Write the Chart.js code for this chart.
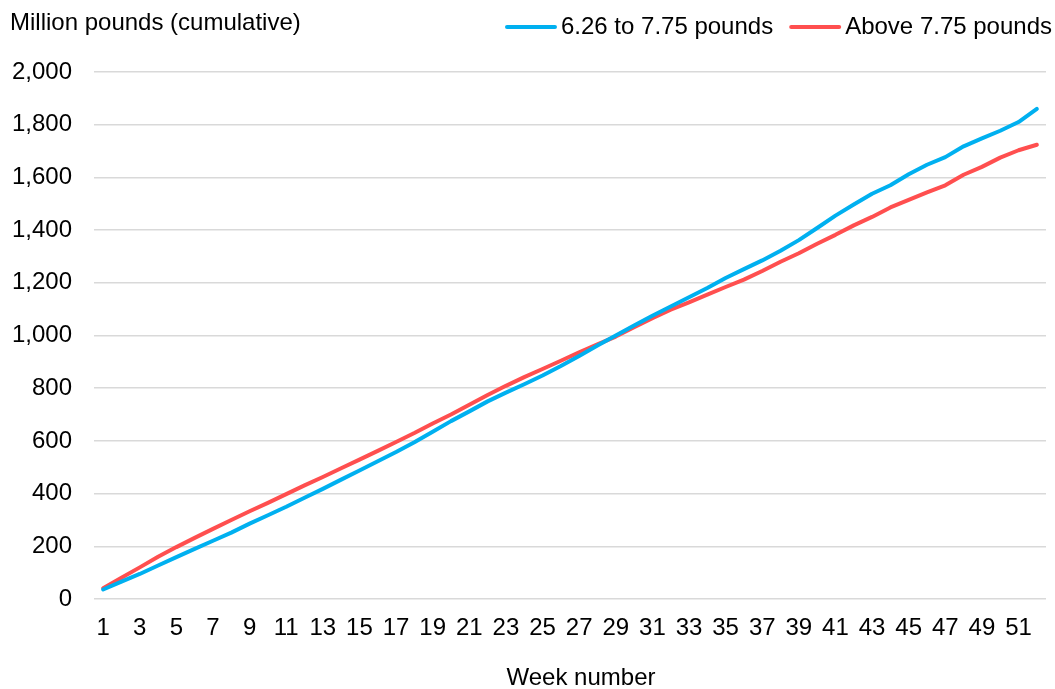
<!DOCTYPE html>
<html>
<head>
<meta charset="utf-8">
<script src="https://cdn.jsdelivr.net/npm/chart.js@4/dist/chart.umd.min.js"></script>
<style>
  html, body { margin: 0; padding: 0; background: #ffffff; }
  #wrap { position: relative; width: 1055px; height: 689px; }
</style>
</head>
<body>
<div id="wrap"><canvas id="chart" width="1055" height="689"></canvas></div>
<script>
// Week numbers along the x axis
const weeks = [1,2,3,4,5,6,7,8,9,10,11,12,13,14,15,16,17,18,19,20,21,22,23,24,25,26,
               27,28,29,30,31,32,33,34,35,36,37,38,39,40,41,42,43,44,45,46,47,48,49,50,51,52];

// Cumulative value, million pounds
const midWeightSeries = [36,66,95,127,159,190,221,252,286,318,350,384,418,453,488,523,558,595,635,675,
                         712,750,783,815,848,884,922,962,1000,1038,1075,1110,1145,1180,1218,1252,1285,1322,
                         1362,1408,1455,1497,1538,1570,1612,1648,1677,1718,1748,1777,1810,1860];
const heavySeries = [41,81,120,160,197,232,266,300,333,365,398,431,463,496,529,562,596,630,666,700,
                     737,774,809,842,873,904,936,966,996,1031,1066,1098,1126,1155,1184,1212,1245,1280,
                     1312,1348,1382,1418,1450,1486,1515,1543,1570,1610,1640,1675,1703,1724];

const seriesNames = ['6.26 to 7.75 pounds', 'Above 7.75 pounds'];
const yTicks = [0, 200, 400, 600, 800, 1000, 1200, 1400, 1600, 1800, 2000];
const yAxisLabel = 'Million pounds (cumulative)';
const xAxisLabel = 'Week number';

const FONT = '"Liberation Sans", Arial, Helvetica, sans-serif';
const TEXT = '#000000';

// Axis captions: value caption top-left, week caption under the tick labels
const axisCaptions = {
  id: 'axisCaptions',
  afterDraw(chart) {
    const ctx = chart.ctx;
    ctx.save();
    ctx.font = '24px ' + FONT;
    ctx.fillStyle = TEXT;
    ctx.textBaseline = 'middle';
    ctx.textAlign = 'left';
    ctx.fillText(yAxisLabel, 10, 23);
    ctx.textAlign = 'center';
    ctx.fillText(xAxisLabel, 581, 678);
    ctx.restore();
  }
};

// Legend row at the top-right: short line sample followed by the series name
const lineLegend = {
  id: 'lineLegend',
  afterDraw(chart) {
    const ctx = chart.ctx;
    const sample = 52, textGap = 4, itemGap = 16, right = 1052, y = 27;
    ctx.save();
    ctx.font = '24px ' + FONT;
    ctx.textBaseline = 'middle';
    ctx.textAlign = 'left';
    const items = chart.data.datasets.map(ds => ({
      label: ds.label, color: ds.borderColor, w: ctx.measureText(ds.label).width
    }));
    let total = 0;
    items.forEach((it, i) => { total += sample + textGap + it.w + (i ? itemGap : 0); });
    let x = right - total;
    items.forEach((it, i) => {
      if (i) x += itemGap;
      ctx.strokeStyle = it.color;
      ctx.lineWidth = 4;
      ctx.lineCap = 'round';
      ctx.beginPath();
      ctx.moveTo(x + 2, y);
      ctx.lineTo(x + sample - 2, y);
      ctx.stroke();
      x += sample + textGap;
      ctx.fillStyle = TEXT;
      ctx.fillText(it.label, x, y);
      x += it.w;
    });
    ctx.restore();
  }
};

new Chart(document.getElementById('chart'), {
  type: 'line',
  data: {
    labels: weeks,
    datasets: [
      {
        label: seriesNames[0],
        data: midWeightSeries,
        borderColor: '#00B0F0',
        backgroundColor: '#00B0F0',
        borderWidth: 4,
        borderCapStyle: 'round',
        borderJoinStyle: 'round',
        pointRadius: 0,
        tension: 0,
        fill: false
      },
      {
        label: seriesNames[1],
        data: heavySeries,
        borderColor: '#FF4F4F',
        backgroundColor: '#FF4F4F',
        borderWidth: 4,
        borderCapStyle: 'round',
        borderJoinStyle: 'round',
        pointRadius: 0,
        tension: 0,
        fill: false
      }
    ]
  },
  options: {
    responsive: false,
    animation: false,
    events: [],
    layout: { padding: { top: 72, right: 9, bottom: 0, left: 0 } },
    plugins: {
      legend: { display: false },
      title: { display: false },
      tooltip: { enabled: false }
    },
    scales: {
      x: {
        type: 'category',
        offset: true,
        grid: { display: false, drawTicks: false },
        border: { display: false },
        ticks: {
          autoSkip: false,
          maxRotation: 0,
          minRotation: 0,
          padding: 15,
          color: TEXT,
          font: { family: FONT, size: 24 },
          callback: function (value, index) {
            return index % 2 === 0 ? this.getLabelForValue(value) : '';
          }
        },
        afterFit(scale) { scale.height = 90; }
      },
      y: {
        min: 0,
        max: 2000,
        afterBuildTicks(scale) { scale.ticks = yTicks.map(v => ({ value: v })); },
        grid: { color: '#D9D9D9', lineWidth: 1.6, drawTicks: false },
        border: { display: false },
        ticks: {
          padding: 22,
          color: TEXT,
          font: { family: FONT, size: 24 },
          callback: v => v.toLocaleString('en-US')
        },
        afterFit(scale) { scale.width = 94; }
      }
    }
  },
  plugins: [axisCaptions, lineLegend]
});
</script>
</body>
</html>
